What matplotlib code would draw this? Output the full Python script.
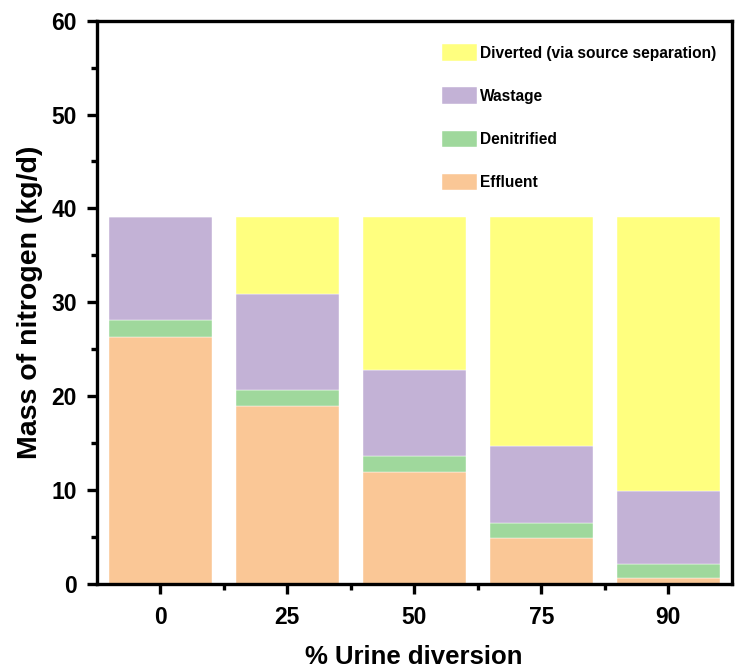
import matplotlib
matplotlib.use("Agg")
import matplotlib.pyplot as plt
import numpy as np
from matplotlib.ticker import MultipleLocator, FixedLocator

# data
categories = ["0", "25", "50", "75", "90"]
effluent = [26.3, 18.9, 11.9, 4.9, 0.6]
denitrified = [1.8, 1.7, 1.7, 1.6, 1.5]
wastage = [11.0, 10.3, 9.2, 8.2, 7.8]
diverted = [0.0, 8.2, 16.3, 24.4, 29.2]

series_names = ["Effluent", "Denitrified", "Wastage", "Diverted (via source separation)"]
colors = ["#FAC796", "#9FD89C", "#C3B2D6", "#FFFF7F"]

plt.rcParams['font.family'] = ['Liberation Sans', 'DejaVu Sans']
plt.rcParams['font.weight'] = 'bold'

fig = plt.figure(figsize=(7.37, 6.70), dpi=100)
ax = fig.add_axes([0.131, 0.129, 0.862, 0.840])

x = np.arange(len(categories))
bottom = np.zeros(len(categories))
handles = []
for name, vals, c in zip(series_names, [effluent, denitrified, wastage, diverted], colors):
    b = ax.bar(x, vals, width=0.81, bottom=bottom, color=c, label=name,
               edgecolor="white", linewidth=0.3)
    handles.append(b)
    bottom = bottom + np.array(vals)

ax.set_xlim(-0.5, len(categories) - 0.5)
ax.set_ylim(0, 60)
ax.set_xticks(x)
ax.set_xticklabels(categories)
# minor ticks between the bars only
ax.xaxis.set_minor_locator(FixedLocator(x[:-1] + 0.5))
ax.yaxis.set_major_locator(MultipleLocator(10))
ax.yaxis.set_minor_locator(MultipleLocator(5))

for s in ax.spines.values():
    s.set_linewidth(2.4)
ax.tick_params(which="major", direction="out", length=7, width=2.4, labelsize=16.5)
ax.tick_params(which="minor", direction="out", length=4, width=2.4)
ax.tick_params(axis="x", which="major", pad=9)
ax.tick_params(axis="y", which="major", pad=7)

for lab in ax.get_xticklabels() + ax.get_yticklabels():
    lab.set_fontweight("bold")

ax.set_xlabel("% Urine diversion", fontsize=18.5, fontweight="bold", labelpad=12)
ax.set_ylabel("Mass of nitrogen (kg/d)", fontsize=20.5, fontweight="bold", labelpad=6)

leg = ax.legend(handles[::-1], series_names[::-1], loc="upper left",
                bbox_to_anchor=(0.543, 0.958), frameon=False, fontsize=11.2,
                handlelength=2.25, handleheight=1.22, labelspacing=1.72,
                handletextpad=0.25, borderpad=0, borderaxespad=0)
for t in leg.get_texts():
    t.set_fontweight("bold")

fig.savefig("out.png", dpi=100)
